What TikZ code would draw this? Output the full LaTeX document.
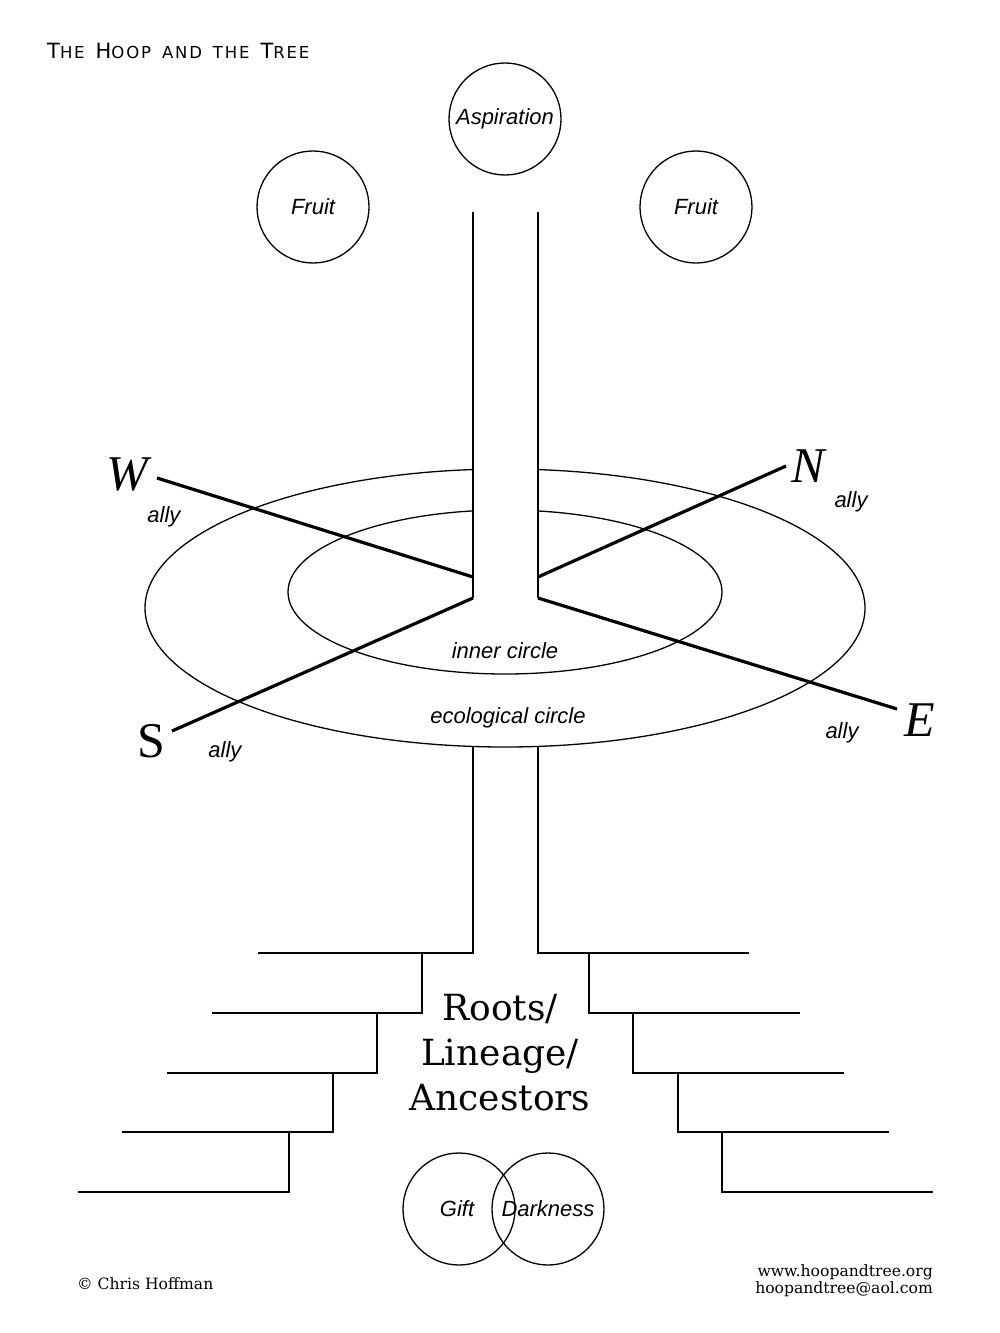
\documentclass[tikz,border=0pt]{standalone}
\usepackage{fontspec}
\setmainfont{Liberation Sans}
\newfontfamily\bookfont{DejaVu Serif}
\newfontfamily\dirfont{Liberation Serif}
\newfontfamily\titlefont[LetterSpace=11]{DejaVu Sans}
\usetikzlibrary{positioning}

% mock small caps for the title
\newcommand\tcap[2]{{\fontsize{21}{21}\selectfont #1}{\fontsize{16.5}{16.5}\selectfont #2}}
\newcommand\tsp{\hspace{11pt}}

\begin{document}
\begin{tikzpicture}[x=1pt, y=-1pt,
  bubble/.style={circle, draw, line width=1.3pt, minimum size=112pt, inner sep=0pt,
    font=\fontsize{22}{22}\selectfont\itshape},
  tag/.style={font=\fontsize{22}{22}\selectfont\itshape, inner sep=0pt},
  point/.style={font=\dirfont\fontsize{50}{50}\selectfont\itshape, inner sep=0pt},
  hoop/.style={line width=1.3pt},
  trunk/.style={line width=2pt},
  axis/.style={line width=3.2pt}]
  \useasboundingbox[fill=white] (0,0) rectangle (1000,1333);
  % Title
  \node[anchor=base west, inner sep=0pt, font=\titlefont] (title) at (47,58)
    {\tcap{T}{HE}\tsp\tcap{H}{OOP}\tsp\tcap{}{AND}\tsp\tcap{}{THE}\tsp\tcap{T}{REE}};
  % Crown: aspiration and fruits
  \node[bubble] (asp) at (505,119) {Aspiration};
  \node[bubble] (fruitl) at (313,207) {Fruit};
  \node[bubble] (fruitr) at (696,207) {Fruit};
  % Hoops
  \draw[hoop] (505,608) ellipse [x radius=360, y radius=139];
  \draw[hoop] (505,592) ellipse [x radius=217, y radius=82];
  \fill[white] (474,212) rectangle (537,598);
  \node[tag] (inner) at (505,651) {inner circle};
  \node[tag] (eco) at (508,718) {ecological circle};
  % Trunk
  \coordinate (tl) at (473,577);
  \coordinate (tr) at (538,577);
  \coordinate (bl) at (473,598);
  \coordinate (br) at (538,598);
  \draw[trunk] (473,212) -- (bl);
  \draw[trunk] (538,212) -- (br);
  % Directions
  \coordinate (wend) at (157,478);
  \coordinate (nend) at (786,466);
  \coordinate (send) at (172,731);
  \coordinate (eend) at (897,709);
  \draw[axis] (wend) -- (tl);
  \draw[axis] (nend) -- (tr);
  \draw[axis] (send) -- (bl);
  \draw[axis] (eend) -- (br);
  \node[point] (W) at (127,475) {W};
  \node[point] (N) at (808,466) {N};
  \node[point, font=\dirfont\fontsize{50}{50}\selectfont] (S) at (151,741) {S};
  \node[point] (E) at (920,720) {E};
  \node[tag] (wally) at (164,517) {ally};
  \node[tag] (nally) at (851,502) {ally};
  \node[tag] (sally) at (225,752) {ally};
  \node[tag] (eally) at (842,733) {ally};
  % Roots
  \draw[trunk] (473,747) -- (473,953) -- (258,953);
  \draw[trunk] (538,747) -- (538,953) -- (749,953);
  \foreach \ya/\yb/\xl/\el/\xr/\er in {953/1013/422/212/589/800, 1013/1073/377/167/633/844,
      1073/1132/333/122/678/889, 1132/1192/289/78/722/933} {
    \draw[trunk] (\xl,\ya) -- (\xl,\yb) -- (\el,\yb);
    \draw[trunk] (\xr,\ya) -- (\xr,\yb) -- (\er,\yb);
  }
  \node[align=center, font=\bookfont\fontsize{36}{45}\selectfont] (roots) at (500,1053)
    {Roots/\\Lineage/\\Ancestors};
  % Gift and darkness
  \node[bubble] (gift) at (459,1209) {};
  \node[bubble] (dark) at (548,1209) {};
  \node[tag] at (457,1209) {Gift};
  \node[tag] at (548,1209) {Darkness};
  % Footer
  \node[anchor=base west, inner sep=0pt, font=\bookfont\fontsize{15.6}{15.6}\selectfont] (author)
    at (77,1289) {\textcopyright\ Chris Hoffman};
  \node[anchor=east, inner sep=0pt, align=right, font=\bookfont\fontsize{15.6}{17}\selectfont] (web)
    at (933,1281) {www.hoopandtree.org\\hoopandtree@aol.com};
\end{tikzpicture}
\end{document}
